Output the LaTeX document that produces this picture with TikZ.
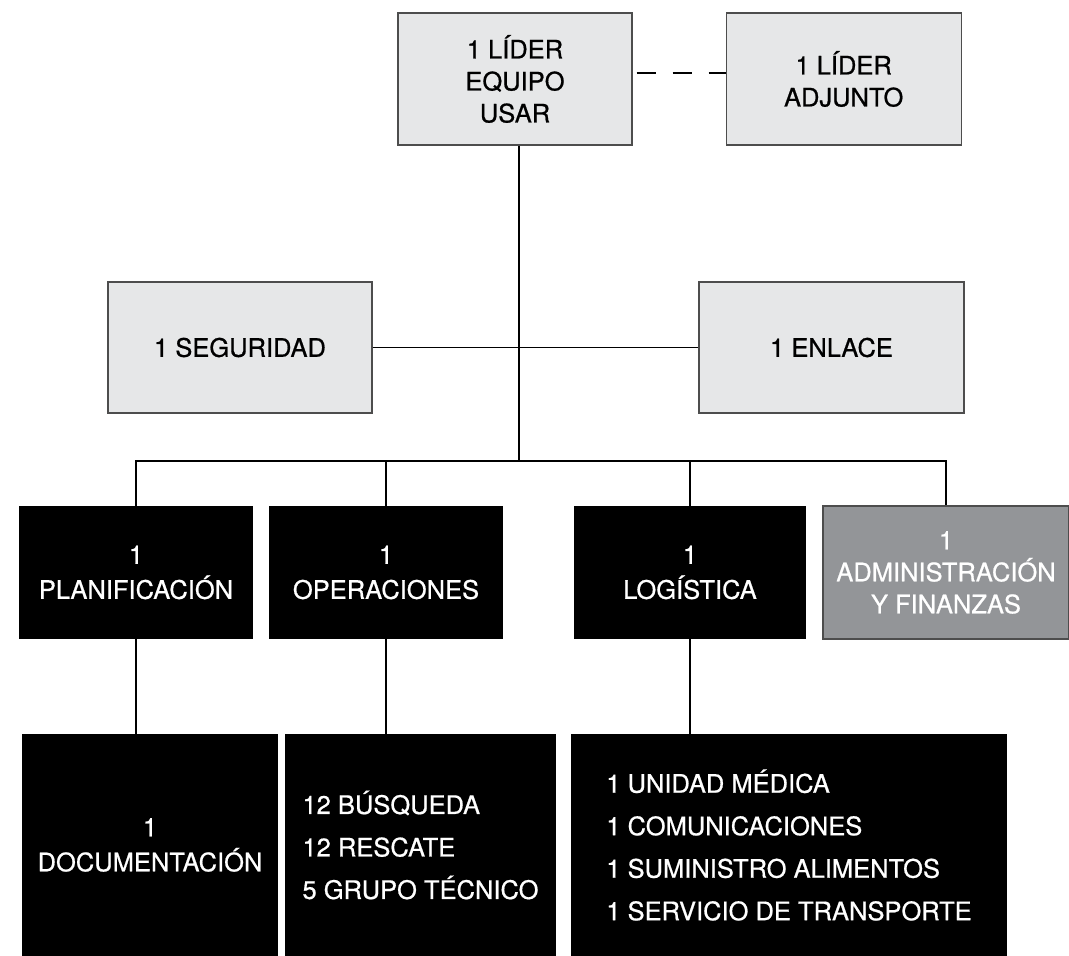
\documentclass[tikz,border=0pt]{standalone}
\usepackage{fontspec}
\setmainfont[FakeBold=0.7]{TeX Gyre Heros}
\usepackage{xcolor}
\usetikzlibrary{positioning}
\definecolor{paleg}{HTML}{E6E7E8}
\definecolor{midg}{HTML}{939598}
\definecolor{darkg}{HTML}{4D4D4D}

\begin{document}
\begin{tikzpicture}[
    x=1pt, y=-1pt,
    box/.style={inner sep=0pt, align=center, font=\fontsize{25.5}{32}\selectfont},
    lead/.style={box, fill=paleg, draw=darkg, line width=1.2pt},
    unit/.style={box, fill=black, text=white, font=\fontsize{25.5}{35}\selectfont},
    admin/.style={box, fill=midg, draw=darkg, line width=1.2pt, text=white},
    listbox/.style={unit, align=left, font=\fontsize{25.5}{42.5}\selectfont},
    link/.style={line width=1.8pt, draw=black}
  ]
  \useasboundingbox (0,0) rectangle (1069,956);

  % Leaders
  \node[lead, minimum width=234pt, minimum height=132pt] (lider) at (515,79) {1 LÍDER\\EQUIPO\\USAR};
  \node[lead, minimum width=235pt, minimum height=132pt, right=93pt of lider] (adjunto) {1 LÍDER\\ADJUNTO};

  % Staff
  \node[lead, minimum width=264pt, minimum height=131pt] (seguridad) at (240,347.5) {1 SEGURIDAD};
  \node[lead, minimum width=265pt, minimum height=131pt] (enlace) at (831.5,347.5) {1 ENLACE};

  % Sections
  \node[unit, minimum width=234pt, minimum height=133pt] (planif) at (136,572.5) {1\\PLANIFICACIÓN};
  \node[unit, minimum width=234pt, minimum height=133pt] (operac) at (386,572.5) {1\\OPERACIONES};
  \node[unit, minimum width=232pt, minimum height=133pt] (logist) at (690,572.5) {1\\LOGÍSTICA};
  \node[admin, minimum width=246pt, minimum height=133pt, font=\fontsize{25.5}{32}\selectfont] (admin) at (946,572.5) {1\\ADMINISTRACIÓN\\Y FINANZAS};

  % Teams
  \node[unit, minimum width=256pt, minimum height=222pt] (docum) at (150,845) {1\\DOCUMENTACIÓN};
  \node[listbox, minimum width=271pt, minimum height=222pt] (busq) at (420.5,845) {12 BÚSQUEDA\\12 RESCATE\\5 GRUPO TÉCNICO};
  \node[listbox, minimum width=436pt, minimum height=222pt] (apoyo) at (789,845) {1 UNIDAD MÉDICA\\1 COMUNICACIONES\\1 SUMINISTRO ALIMENTOS\\1 SERVICIO DE TRANSPORTE};

  \coordinate (bus) at (519,461);

  % Connections
  \draw[link, dash pattern=on 19pt off 17pt, dash phase=32pt] ([yshift=6pt]lider.east) -- ([yshift=6pt]adjunto.west);
  \draw[link] (lider.south -| bus) -- (bus);
  \draw[link] (seguridad.east) -- (enlace.west);
  \draw[link] (planif.north) |- (bus) -| (admin.north);
  \draw[link] (operac.north) -- (operac.north |- bus);
  \draw[link] (logist.north) -- (logist.north |- bus);
  \draw[link] (planif.south) -- (planif.south |- docum.north);
  \draw[link] (operac.south) -- (operac.south |- busq.north);
  \draw[link] (logist.south) -- (logist.south |- apoyo.north);

\end{tikzpicture}
\end{document}
